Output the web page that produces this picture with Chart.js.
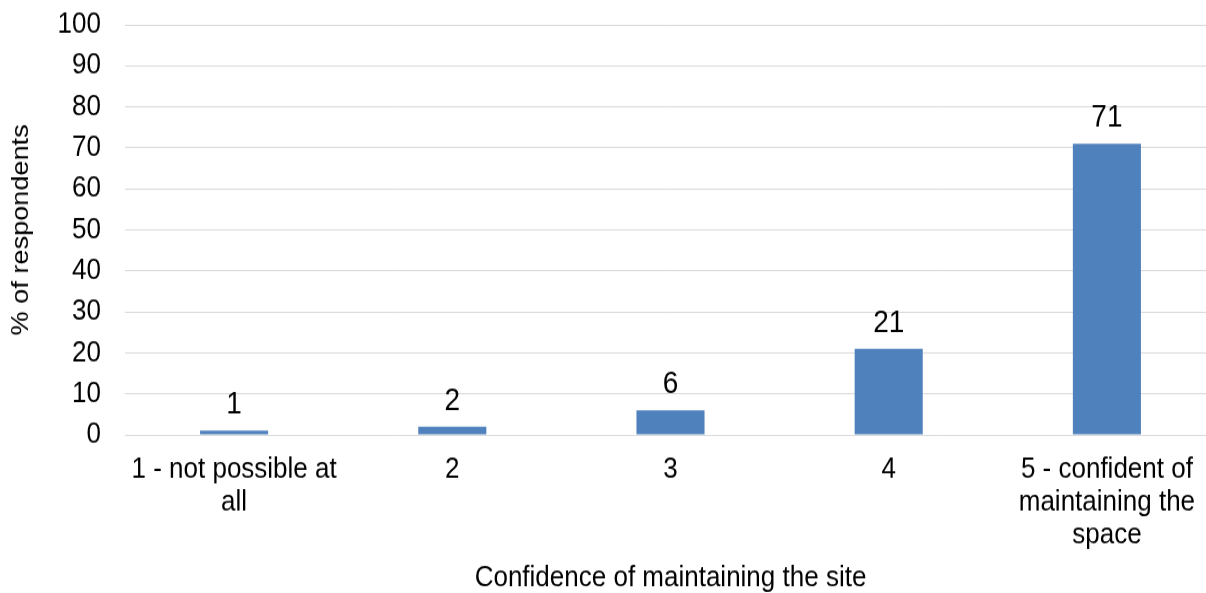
<!DOCTYPE html>
<html>
<head>
<meta charset="utf-8">
<title>Confidence of maintaining the site</title>
<script src="https://cdn.jsdelivr.net/npm/chart.js@4.4.1/dist/chart.umd.min.js"></script>
<style>
  html, body { margin: 0; padding: 0; overflow: hidden; background: #fff; }
  #wrap { width: 1206px; height: 593px; overflow: hidden; }
  /* the chart is laid out on a shorter canvas and stretched to the full height */
  #chart { display: block; transform-origin: 0 0; transform: scaleY(1.1295); }
</style>
</head>
<body>
<div id="wrap"><canvas id="chart" width="1220" height="525"></canvas></div>
<script>
const categories = [
  ['1 - not possible at', 'all'],
  '2',
  '3',
  '4',
  ['5 - confident of', 'maintaining the', 'space']
];
const percentRespondents = [1, 2, 6, 21, 71];
const yTicks = [0, 10, 20, 30, 40, 50, 60, 70, 80, 90, 100];

const FONT = '"Liberation Sans", Arial, Helvetica, sans-serif';
const BAR_BLUE = '#4f81bd';
const GRID_GREY = '#d9d9d9';

// writes each bar's value above it
const valueLabels = {
  id: 'valueLabels',
  afterDatasetsDraw(chart) {
    const ctx = chart.ctx;
    const meta = chart.getDatasetMeta(0);
    ctx.save();
    ctx.font = '28px ' + FONT;
    ctx.fillStyle = '#000';
    ctx.textAlign = 'center';
    ctx.textBaseline = 'alphabetic';
    meta.data.forEach((bar, i) => {
      ctx.fillText(String(chart.data.datasets[0].data[i]), bar.x, bar.y - 15);
    });
    ctx.restore();
  }
};

new Chart(document.getElementById('chart'), {
  type: 'bar',
  data: {
    labels: categories,
    datasets: [{
      label: '% of respondents',
      data: percentRespondents,
      backgroundColor: BAR_BLUE,
      borderWidth: 0,
      barPercentage: 1,
      categoryPercentage: 0.312
    }]
  },
  options: {
    responsive: false,
    animation: false,
    devicePixelRatio: 1,
    layout: { padding: { top: 22, right: 4, bottom: 0, left: 0 } },
    plugins: {
      legend: { display: false },
      tooltip: { enabled: false }
    },
    scales: {
      x: {
        grid: { display: false, drawTicks: false },
        border: { display: false },
        ticks: {
          color: '#000',
          padding: 17,
          maxRotation: 0,
          autoSkip: false,
          font: { family: FONT, size: 26, lineHeight: 1.1 }
        },
        title: {
          display: true,
          text: 'Confidence of maintaining the site',
          color: '#000',
          padding: { top: 0, bottom: 0 },
          font: { family: FONT, size: 26, lineHeight: 1.0 }
        },
        afterFit(scale) { scale.height = 140; }
      },
      y: {
        min: 0,
        max: 100,
        afterBuildTicks(scale) { scale.ticks = yTicks.map(v => ({ value: v })); },
        grid: {
          color: GRID_GREY,
          lineWidth: 1,
          drawTicks: true,
          tickLength: 24,
          tickColor: 'rgba(0,0,0,0)'
        },
        border: { display: false },
        ticks: {
          color: '#000',
          padding: 0,
          font: { family: FONT, size: 26 }
        },
        title: {
          display: true,
          text: '% of respondents',
          color: '#000',
          padding: { top: 7, bottom: 0 },
          font: { family: FONT, size: 24, lineHeight: 1.2 }
        },
        afterFit(scale) { scale.width = 125; }
      }
    }
  },
  plugins: [valueLabels]
});
</script>
</body>
</html>
